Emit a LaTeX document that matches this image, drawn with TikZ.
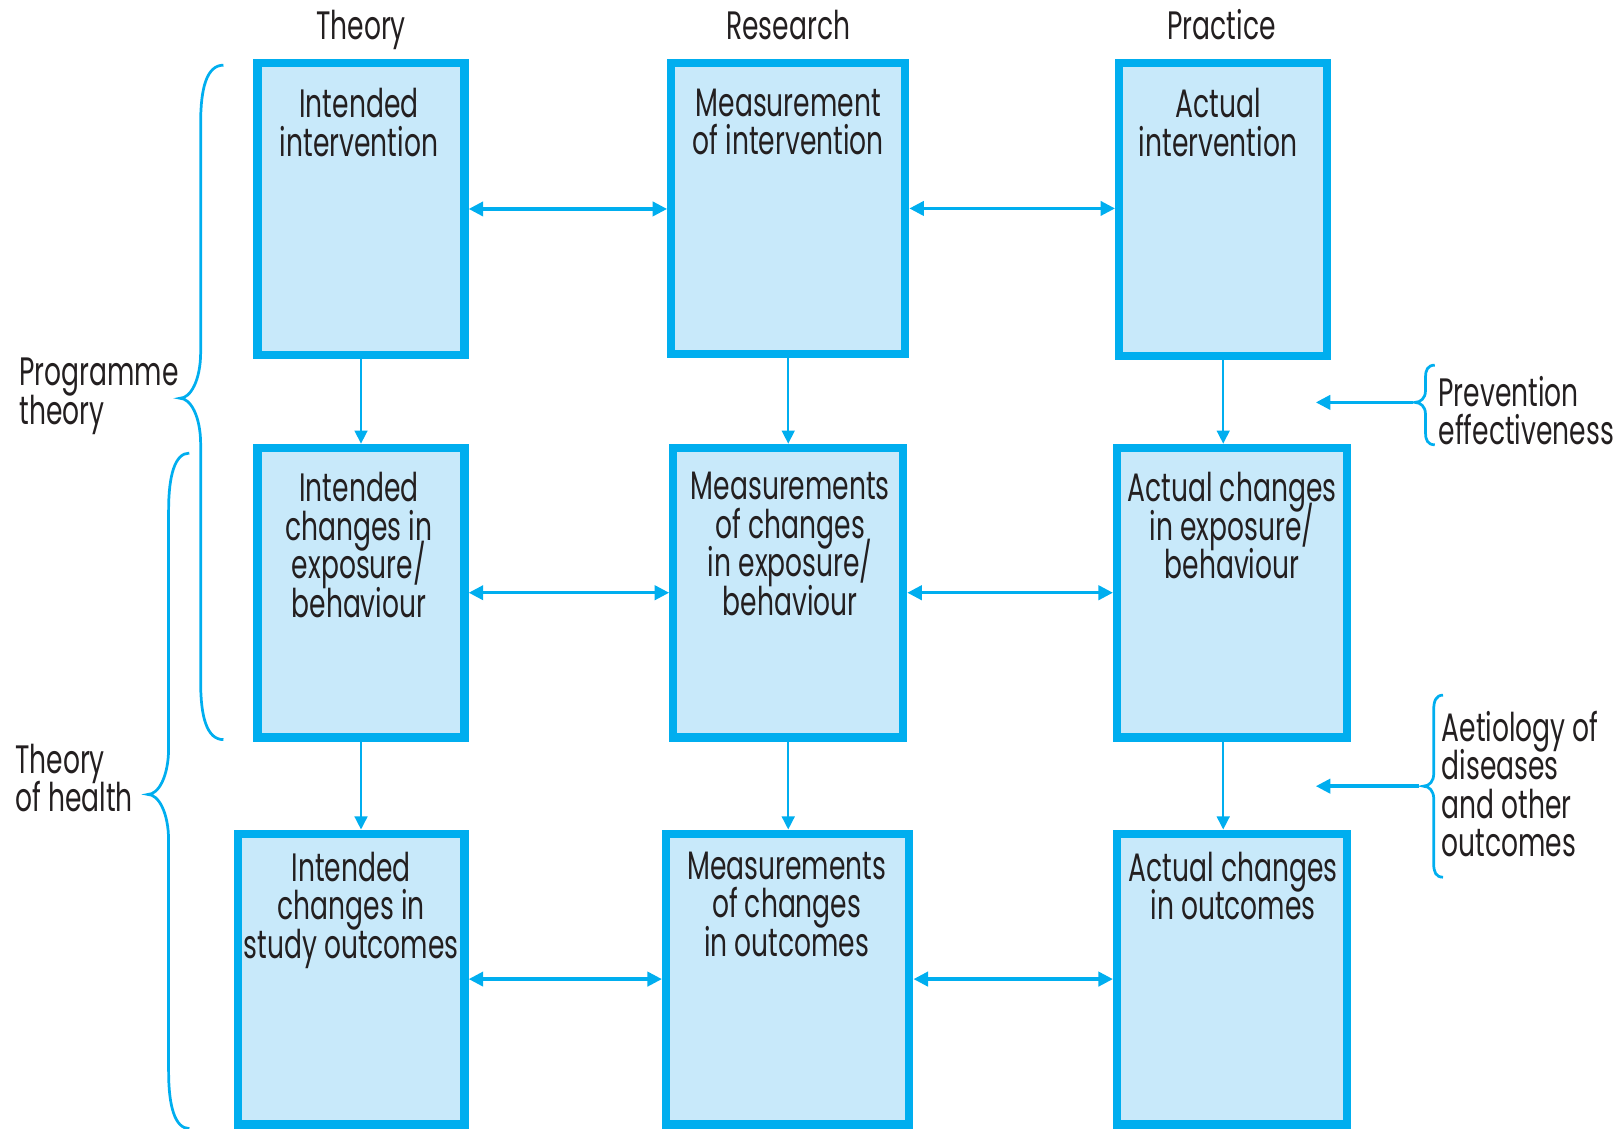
\documentclass[tikz,border=0pt]{standalone}
\usepackage{fontspec}
\setmainfont{Poppins}[FakeStretch=0.67]
\usetikzlibrary{arrows.meta,calc}
\definecolor{boxline}{HTML}{00AEEF}
\definecolor{boxfill}{HTML}{C8E9FA}
\definecolor{ink}{HTML}{231F20}

\begin{document}
\begin{tikzpicture}[x=0.01cm, y=-0.01cm,
  font={\fontsize{10.9}{10.6}\selectfont\lineskiplimit=-100pt\lineskip=0pt},
  box/.style={draw=boxline, fill=boxfill, line width=0.08cm, inner sep=0pt},
  boxtext/.style={anchor=north, align=center, text=ink, inner sep=0pt},
  sidetext/.style={anchor=west, align=left, text=ink, inner sep=0pt},
  head/.style={anchor=base, text=ink, inner sep=0pt},
  link/.style={draw=boxline, line width=0.95pt, {Triangle[length=4pt,width=3.9pt]}-{Triangle[length=4pt,width=3.9pt]}},
  flow/.style={draw=boxline, line width=0.65pt, -{Triangle[length=3.6pt,width=3.5pt]}},
  feed/.style={draw=boxline, line width=0.95pt, -{Triangle[length=4pt,width=3.9pt]}},
  bracepath/.style={draw=boxline, line width=0.75pt},
]
\useasboundingbox (0,0) rectangle (1568,1091);

% column headings
\node[head] (hT) at (349,38) {Theory};
\node[head] (hR) at (762,38) {Research};
\node[head] (hP) at (1181,38) {Practice};

% row 1: interventions
\node[box, minimum width=2.00cm, minimum height=2.82cm] (R1T) at (349,202) {};
\node[box, minimum width=2.26cm, minimum height=2.81cm] (R1R) at (762,201.5) {};
\node[box, minimum width=2.01cm, minimum height=2.83cm] (R1P) at (1182.5,202.5) {};

% row 2: exposure / behaviour
\node[box, minimum width=2.00cm, minimum height=2.80cm] (R2T) at (349,573) {};
\node[box, minimum width=2.22cm, minimum height=2.80cm] (R2R) at (762,573) {};
\node[box, minimum width=2.22cm, minimum height=2.80cm] (R2P) at (1191,573) {};

% row 3: outcomes
\node[box, minimum width=2.19cm, minimum height=2.81cm] (R3T) at (339.5,946.5) {};
\node[box, minimum width=2.35cm, minimum height=2.81cm] (R3R) at (761.5,946.5) {};
\node[box, minimum width=2.22cm, minimum height=2.81cm] (R3P) at (1191,946.5) {};

% box texts
\node[boxtext] (x1T) at ($(R1T.north)+(-2,28)$) {Intended\\intervention};
\node[boxtext] (x1R) at ($(R1R.north)+(0,28)$) {Measurement\\of intervention};
\node[boxtext] (x1P) at ($(R1P.north)+(-5,28)$) {Actual\\intervention};
\node[boxtext] (x2T) at ($(R2T.north)+(-2,27)$) {Intended\\changes in\\exposure/\\behaviour};
\node[boxtext] (x2R) at ($(R2R.north)+(2,27)$) {Measurements\\of changes\\in exposure/\\behaviour};
\node[boxtext] (x2P) at ($(R2P.north)+(0,27)$) {Actual changes\\in exposure/\\behaviour};
\node[boxtext] (x3T) at ($(R3T.north)+(0,21)$) {Intended\\changes in\\study outcomes};
\node[boxtext] (x3R) at ($(R3R.north)+(-1,21)$) {Measurements\\of changes\\in outcomes};
\node[boxtext] (x3P) at ($(R3P.north)+(1,21)$) {Actual changes\\in outcomes};

% horizontal two-way links
\draw[link] (R1T.east) -- (R1T.east -| R1R.west);
\draw[link] (R1R.east) -- (R1R.east -| R1P.west);
\draw[link] (R2T.east) -- (R2T.east -| R2R.west);
\draw[link] (R2R.east) -- (R2R.east -| R2P.west);
\draw[link] (R3T.east) -- (R3T.east -| R3R.west);
\draw[link] (R3R.east) -- (R3R.east -| R3P.west);

% vertical flows
\draw[flow] (R1T.south) -- (R1T.south |- R2T.north);
\draw[flow] (R1R.south) -- (R1R.south |- R2R.north);
\draw[flow] (R1P.south) -- (R1P.south |- R2P.north);
\draw[flow] (R2T.south) -- (R2T.south |- R3T.north);
\draw[flow] (R2R.south) -- (R2R.south |- R3R.north);
\draw[flow] (R2P.south -| R1P.south) -- (R3P.north -| R1P.south);

% left braces
\draw[bracepath] (216,63) .. controls (200,63) and (194,85) .. (194,118)
  -- (194,340) .. controls (194,368) and (184,385) .. (174,385)
  .. controls (184,385) and (194,402) .. (194,430)
  -- (194,660) .. controls (194,693) and (200,715) .. (216,715);
\draw[bracepath] (183,438) .. controls (169,438) and (163,460) .. (163,493)
  -- (163,723) .. controls (163,751) and (153,768) .. (143,768)
  .. controls (153,768) and (163,785) .. (163,813)
  -- (163,1036) .. controls (163,1069) and (169,1091) .. (183,1091);
\node[sidetext] (lProg) at (18,383) {Programme\\theory};
\node[sidetext] (lHealth) at (14,752) {Theory\\of health};

% right braces
\draw[bracepath] (1387,353) .. controls (1380,353) and (1378,358) .. (1378,365)
  -- (1378,378) .. controls (1378,385) and (1373,389) .. (1368,389)
  .. controls (1373,389) and (1378,393) .. (1378,400)
  -- (1378,418) .. controls (1378,425) and (1380,430) .. (1387,430);
\draw[bracepath] (1395,672) .. controls (1388,672) and (1386,678) .. (1386,686)
  -- (1386,748) .. controls (1386,755) and (1382,760) .. (1376,760)
  .. controls (1382,760) and (1386,765) .. (1386,772)
  -- (1386,835) .. controls (1386,843) and (1388,848) .. (1395,848);
\coordinate (peTip) at (1366,389);
\coordinate (peEnd) at (1272,389);
\coordinate (aeTip) at (1372,760);
\coordinate (aeEnd) at (1272,760);
\draw[feed] (peTip) -- (peEnd);
\draw[feed] (aeTip) -- (aeEnd);
\node[sidetext] (lPrev) at (1390,397) {Prevention\\effectiveness};
\node[sidetext] (lAet) at (1393,758) {Aetiology of\\diseases\\and other\\outcomes};
\end{tikzpicture}
\end{document}
